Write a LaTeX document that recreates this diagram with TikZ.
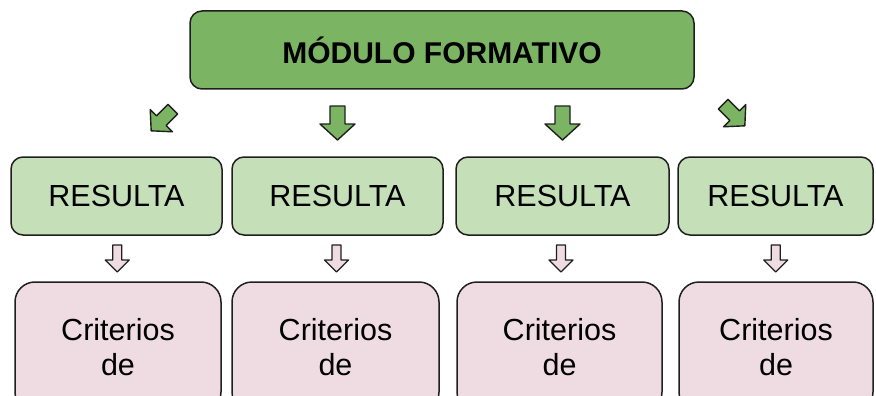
\documentclass[tikz,border=0pt]{standalone}
\usepackage{fontspec}
\setmainfont{Liberation Sans}
\usetikzlibrary{calc}
\definecolor{topgreen}{HTML}{7BB563}
\definecolor{resgreen}{HTML}{C5DFB8}
\definecolor{critpink}{HTML}{EFDCE3}
\definecolor{edge}{HTML}{1F1F1F}
\tikzset{
  box/.style={draw=edge, line width=1.5pt, rounded corners=12pt, inner sep=0pt, align=center},
  modbox/.style={box, fill=topgreen, minimum width=504pt, minimum height=78pt, font=\fontsize{30}{35}\selectfont\bfseries},
  resbox/.style={box, fill=resgreen, minimum height=78pt, font=\fontsize{30.5}{36}\selectfont},
  critbox/.style={box, fill=critpink, rounded corners=20pt, minimum height=130pt, font=\fontsize{30.5}{35}\selectfont},
  bigarr/.pic={
    \draw[draw=edge, line width=1.4pt, fill=topgreen, line join=round]
      (-7.5,-17) -- (7.5,-17) -- (7.5,1) -- (17.5,1) -- (0,17) -- (-17.5,1) -- (-7.5,1) -- cycle;},
  smallarr/.pic={
    \draw[draw=edge, line width=1.2pt, fill=critpink, line join=round]
      (-4.5,-13.5) -- (4.5,-13.5) -- (4.5,1.5) -- (12,1.5) -- (0,13.5) -- (-12,1.5) -- (-4.5,1.5) -- cycle;},
}
\begin{document}
\begin{tikzpicture}[x=1pt, y=-1pt]
  \useasboundingbox (0,0) rectangle (876,396);
  \clip (0,0) rectangle (876,396);
  % top module
  \node[modbox] (mod) at (442,50) {MÓDULO FORMATIVO};
  % results and criteria
  \foreach \i/\cx/\w in {1/116.5/211, 2/337.5/211, 3/562.5/213, 4/775.5/195}
    \node[resbox, minimum width=\w*1pt] (r\i) at (\cx,196) {RESULTA};
  \foreach \i/\cx/\w in {1/118/206, 2/335.5/207, 3/559.5/205, 4/776/194}
    \node[critbox, minimum width=\w*1pt] (c\i) at (\cx,347) {Criterios\\de};
  \coordinate (mid) at ($(mod.south)!0.5!(r1.north)$);
  % green arrows
  \pic[rotate=-45, scale=0.9] (g1) at (162,120) {bigarr};
  \pic (g2) at (r2.north |- mid) {bigarr};
  \pic (g3) at (r3.north |- mid) {bigarr};
  \pic[rotate=45, scale=0.9] (g4) at (734,115) {bigarr};
  % pink arrows
  \foreach \i in {1,...,4}
    \pic (a\i) at ($(r\i.south)!0.5!(c\i.north)$) {smallarr};
\end{tikzpicture}
\end{document}
